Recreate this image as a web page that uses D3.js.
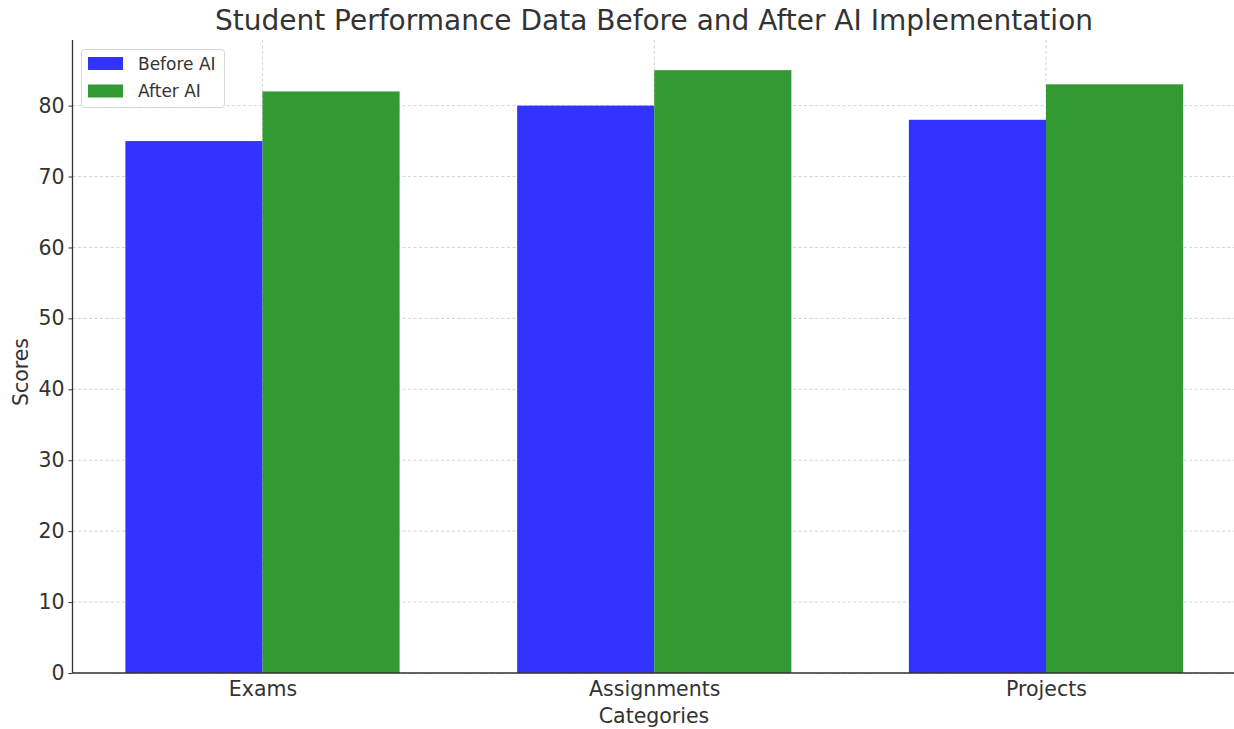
<!DOCTYPE html>
<html>
<head>
<meta charset="utf-8">
<script src="https://cdn.jsdelivr.net/npm/d3@7"></script>
<style>
  body { margin: 0; background: #fff; }
  svg { font-family: "DejaVu Sans", sans-serif; }
</style>
</head>
<body>
<script>
// chart data
var categories = ["Exams", "Assignments", "Projects"];
var beforeAI = [75, 80, 78];
var afterAI = [82, 85, 83];
var seriesNames = ["Before AI", "After AI"];
var yTicks = [0, 10, 20, 30, 40, 50, 60, 70, 80];

var width = 1234, height = 729;
var plotLeft = 72.5, plotRight = 1236, plotTop = 40, plotBottom = 673;

var svg = d3.select("body").append("svg")
    .attr("width", width)
    .attr("height", height);

// x in "index" units like matplotlib, bars are 0.35 wide
var barW = 0.35;
var x = d3.scaleLinear().domain([-0.485, 2.485]).range([plotLeft, plotRight]);
var y = d3.scaleLinear().domain([0, 89.25]).range([plotBottom, plotTop]);

// grid
svg.append("g").selectAll("line")
    .data(yTicks).enter().append("line")
    .attr("x1", plotLeft).attr("x2", width)
    .attr("y1", function (d) { return y(d); })
    .attr("y2", function (d) { return y(d); })
    .attr("stroke", "#c8c8c8")
    .attr("stroke-width", 0.8)
    .attr("stroke-dasharray", "3,2.5");

svg.append("g").selectAll("line")
    .data(categories).enter().append("line")
    .attr("x1", function (d, i) { return x(i); })
    .attr("x2", function (d, i) { return x(i); })
    .attr("y1", plotTop).attr("y2", plotBottom)
    .attr("stroke", "#c8c8c8")
    .attr("stroke-width", 0.8)
    .attr("stroke-dasharray", "3,2.5");

// bars
var colors = ["#3333ff", "#339933"];
var series = [beforeAI, afterAI];

series.forEach(function (vals, s) {
    svg.append("g").selectAll("rect")
        .data(vals).enter().append("rect")
        .attr("x", function (d, i) { return x(i - barW + s * barW); })
        .attr("width", x(barW) - x(0))
        .attr("y", function (d) { return y(d); })
        .attr("height", function (d) { return y(0) - y(d); })
        .attr("fill", colors[s]);
});

// axes
var yAxis = d3.axisLeft(y).tickValues(yTicks).tickSize(4).tickPadding(4);
var gy = svg.append("g").attr("transform", "translate(" + plotLeft + ",0)").call(yAxis);
gy.select(".domain").remove();
gy.selectAll("text").attr("font-size", 20.5).attr("fill", "#333")
    .attr("font-family", "DejaVu Sans");
gy.selectAll("line").attr("stroke", "#333");

var xAxis = d3.axisBottom(x).tickValues([0, 1, 2])
    .tickFormat(function (d) { return categories[d]; })
    .tickSize(0).tickPadding(8);
var gx = svg.append("g").attr("transform", "translate(0," + plotBottom + ")").call(xAxis);
gx.select(".domain").remove();
gx.selectAll("text").attr("font-size", 20.5).attr("fill", "#333")
    .attr("font-family", "DejaVu Sans");

// spines
svg.append("line").attr("x1", plotLeft).attr("x2", plotLeft).attr("y1", plotTop).attr("y2", plotBottom)
    .attr("stroke", "#333").attr("stroke-width", 1.3);
svg.append("line").attr("x1", plotLeft).attr("x2", width).attr("y1", plotBottom).attr("y2", plotBottom)
    .attr("stroke", "#333").attr("stroke-width", 1.3);

// titles
svg.append("text")
    .attr("x", 654).attr("y", 30)
    .attr("text-anchor", "middle")
    .attr("font-size", 28)
    .attr("fill", "#333")
    .text("Student Performance Data Before and After AI Implementation");

svg.append("text")
    .attr("x", 654).attr("y", 723)
    .attr("text-anchor", "middle")
    .attr("font-size", 20.5)
    .attr("fill", "#333")
    .text("Categories");

svg.append("text")
    .attr("transform", "translate(28,372) rotate(-90)")
    .attr("text-anchor", "middle")
    .attr("font-size", 20.5)
    .attr("fill", "#333")
    .text("Scores");

// legend
var legend = svg.append("g");
legend.append("rect")
    .attr("x", 81.5).attr("y", 49.5)
    .attr("width", 143).attr("height", 58)
    .attr("rx", 3)
    .attr("fill", "#fff").attr("fill-opacity", 0.8)
    .attr("stroke", "#d6d6d6");

seriesNames.forEach(function (name, i) {
    legend.append("rect")
        .attr("x", 88).attr("y", 57 + i * 27.5)
        .attr("width", 35).attr("height", 13)
        .attr("fill", colors[i]);
    legend.append("text")
        .attr("x", 138).attr("y", 69.5 + i * 27.5)
        .attr("font-size", 17)
        .attr("fill", "#333")
        .text(name);
});
</script>
</body>
</html>
